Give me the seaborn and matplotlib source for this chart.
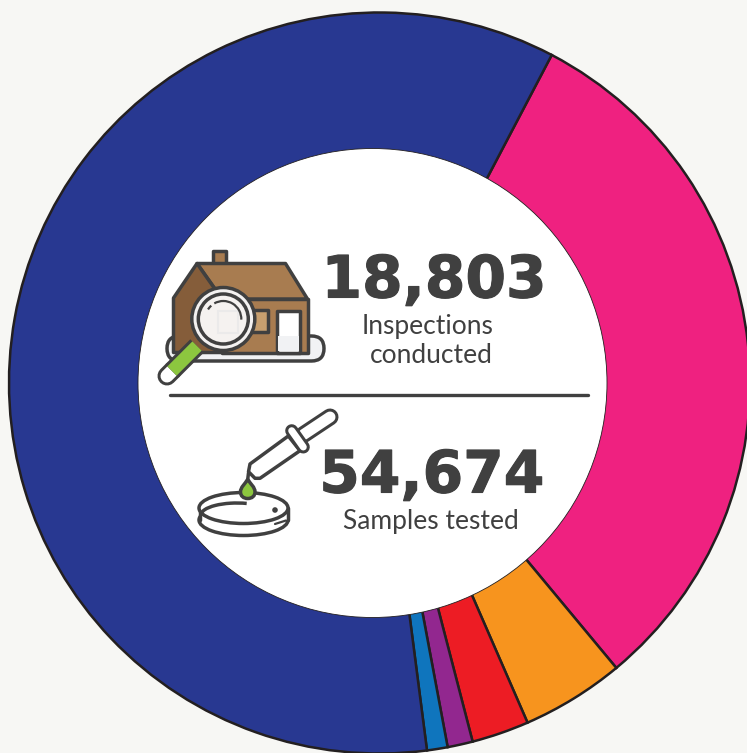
import numpy as np
import pandas as pd
import matplotlib
matplotlib.use("Agg")
import matplotlib.pyplot as plt
import matplotlib.patheffects as pe
from matplotlib.patches import Circle, Ellipse, Polygon, FancyBboxPatch, Arc, Rectangle, PathPatch
from matplotlib.path import Path
import seaborn as sns

# share of samples per category, read off the ring (names not shown in the picture)
segments = ["navy", "pink", "orange", "red", "purple", "blue"]
shares = [59.8, 31.3, 4.5, 2.5, 1.1, 0.9]
seg_colors = ["#283891", "#EF2180", "#F7941E", "#ED1C24", "#92278F", "#0F75BD"]
order = ["pink", "orange", "red", "purple", "blue", "navy"]

inspections = "18,803"
samples = "54,674"

BG = "#F7F7F4"
DARK = "#404040"

sns.set_theme(style="white", rc={"figure.facecolor": BG, "axes.facecolor": "none"})

df = pd.DataFrame({"segment": segments, "share": shares}).set_index("segment").loc[order]
palette = dict(zip(segments, sns.color_palette(seg_colors)))

fig = plt.figure(figsize=(7.47, 7.53), dpi=100)
ax = fig.add_axes([0, 0, 1, 1])
ax.pie(df["share"], colors=[palette[s] for s in df.index], startangle=62.3, counterclock=False,
       center=(379.5, 753 - 383), radius=370.5,
       wedgeprops=dict(edgecolor="#231F20", linewidth=1.8))
ax.set_xlim(0, 747)
ax.set_ylim(0, 753)
ax.set_aspect("equal")
ax.axis("off")

# overlay in pixel coordinates for the centre disc and the icons
ov = fig.add_axes([0, 0, 1, 1])
ov.set_xlim(0, 747)
ov.set_ylim(753, 0)
ov.axis("off")
ov.add_patch(Circle((372.5, 383), 234.5, fc="white", ec="#231F20", lw=0.6))

lw = 2.5


def poly(pts, fc, z=3, ec=DARK):
    ov.add_patch(Polygon(pts, closed=True, fc=fc, ec=ec, lw=lw, joinstyle="round", zorder=z))


def tube(p0, p1, width, fc, z=3, cap="round"):
    xs, ys = [p0[0], p1[0]], [p0[1], p1[1]]
    ov.plot(xs, ys, color=DARK, lw=width * 0.72, solid_capstyle=cap, zorder=z)
    ov.plot(xs, ys, color=fc, lw=(width - 6) * 0.72, solid_capstyle=cap, zorder=z + 0.1)


# house
ov.add_patch(FancyBboxPatch((167, 336), 157, 25, boxstyle="round,pad=0,rounding_size=12.5",
                            fc="#F1F2F4", ec=DARK, lw=lw, zorder=2))
poly([(213, 251), (226, 251), (226, 264), (213, 264)], "#A87C50", 2.5)
poly([(222, 299), (307.5, 299), (307.5, 352.5), (222, 352.5)], "#A87C50")
poly([(197, 263.5), (285.5, 263.5), (307.5, 299), (222, 299)], "#A87C50")
poly([(173.5, 298), (197, 263.5), (222, 299), (222, 352.5), (173.5, 352.5)], "#855D3A")
poly([(250, 310), (267.5, 310), (267.5, 332), (250, 332)], "#C79F6F", 3)
poly([(277, 352.5), (277, 310.5), (300, 310.5), (300, 352.5)], "white", 3.2)
ov.add_patch(Rectangle((278.4, 336), 20.2, 15, fc="#F1F2F4", ec="none", zorder=3.3))

# magnifier
tube((172, 371), (167, 376), 19, "white", 4)
tube((197, 346), (172, 371), 19, "#8CC63F", 4.5, cap="butt")
ov.add_patch(Circle((223.3, 319), 31.5, fc="#F3F1F0", ec=DARK, lw=lw, zorder=5))
ov.add_patch(Circle((223.3, 319), 25, fc="#F5F2F0", ec=DARK, lw=lw, zorder=5.1))
ov.add_patch(Rectangle((218, 311), 20, 22, fc="none", ec="#EBEAEA", lw=1.5, zorder=5.2))
ov.add_patch(Arc((223.3, 319), 36, 36, theta1=212, theta2=228, color=DARK, lw=1.6, zorder=5.3))
ov.add_patch(Arc((223.3, 319), 36, 36, theta1=240, theta2=362, color=DARK, lw=1.6, zorder=5.3))

# dropper and dish
ov.add_patch(Ellipse((243.5, 520), 89, 31, fc="white", ec=DARK, lw=lw, zorder=2))
ov.add_patch(Rectangle((200.5, 508), 86, 12, fc="white", ec="none", zorder=2.1))
ov.plot([199.5, 199.5], [508, 520], color=DARK, lw=lw, zorder=2.2)
ov.plot([288, 288], [508, 520], color=DARK, lw=lw, zorder=2.2)
ov.add_patch(Ellipse((243.5, 508), 89, 31, fc="white", ec=DARK, lw=lw, zorder=2.3))
ov.add_patch(Arc((237, 515), 72, 24, theta1=180, theta2=310, color=DARK, lw=lw, zorder=2.4))
ov.add_patch(Circle((275, 510), 2.8, fc=DARK, ec="none", zorder=2.4))
ov.plot([275, 286], [524, 520.5], color=DARK, lw=1.6, zorder=2.4)

drop = Path([(247.7, 479.3), (245, 484), (240.5, 487), (240.5, 492),
             (240.5, 496), (243.5, 498.5), (247.7, 498.5),
             (252, 498.5), (255, 496), (255, 492),
             (255, 487), (250.5, 484), (247.7, 479.3)],
            [Path.MOVETO] + [Path.CURVE4] * 12)
ov.add_patch(PathPatch(drop, fc="#8CC63F", ec=DARK, lw=lw, zorder=3))
ov.plot([247.7, 248.5], [479.5, 473], color=DARK, lw=lw, zorder=3)
tube((303.7, 434.5), (330, 417), 17, "white", 4)
poly([(250, 464), (288.3, 436), (300, 450.7), (260, 478.3), (255, 478.3), (248.5, 471.7)], "white", 4)
tube((291.7, 430.7), (303.3, 447), 13, "white", 4.5)

# text
heavy = [pe.withStroke(linewidth=0.8, foreground=DARK)]
ov.text(434, 275, inspections, ha="center", va="center_baseline", fontsize=42, fontweight="bold",
        family="DejaVu Sans", color=DARK, path_effects=heavy)
ov.text(428, 324, "Inspections", ha="center", va="center_baseline", fontsize=19, family="Lato", color=DARK)
ov.text(431, 353, "conducted", ha="center", va="center_baseline", fontsize=19, family="Lato", color=DARK)
ov.plot([170, 588], [395, 395], color=DARK, lw=2.4, solid_capstyle="round")
ov.text(432, 470, samples, ha="center", va="center_baseline", fontsize=42, fontweight="bold",
        family="DejaVu Sans", color=DARK, path_effects=heavy)
ov.text(431, 519, "Samples tested", ha="center", va="center_baseline", fontsize=19, family="Lato", color=DARK)

fig.savefig("out.png", dpi=100, facecolor=BG)
